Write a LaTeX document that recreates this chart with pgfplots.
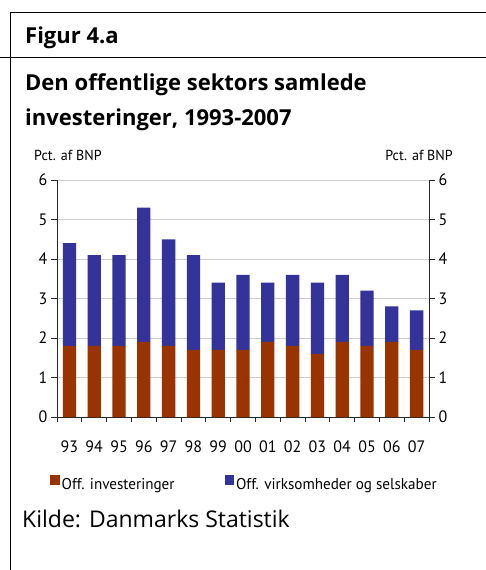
\documentclass[border=0pt]{standalone}
\usepackage{pgfplots}
\pgfplotsset{compat=1.18}
\usepackage{fontspec}
\setmainfont{Open Sans}
\newfontfamily\cond[FakeStretch=0.97]{PT Sans}
\definecolor{cred}{HTML}{993300}
\definecolor{cblue}{HTML}{333399}
\definecolor{cgrid}{HTML}{CCCCCC}
\begin{document}
\begin{tikzpicture}
\path[use as bounding box] (0pt,0pt) rectangle (486pt,-570pt);
\draw[line width=1pt] (10pt,-12pt) -- (486pt,-12pt);
\draw[line width=1pt] (0pt,-57pt) -- (486pt,-57pt);
\draw[line width=1pt] (10pt,-12pt) -- (10pt,-570pt);
\node[anchor=base west,inner sep=0pt] at (25pt,-43pt) {\fontsize{22}{26}\selectfont\bfseries Figur 4.a};
\node[anchor=base west,inner sep=0pt] at (25pt,-90pt) {\fontsize{22}{26}\selectfont\bfseries Den offentlige sektors samlede};
\node[anchor=base west,inner sep=0pt] at (25pt,-125pt) {\fontsize{22}{26}\selectfont\bfseries investeringer, 1993-2007};
\node[anchor=base west,inner sep=0pt] at (34pt,-160pt) {\cond\fontsize{14.5}{17}\selectfont Pct. af BNP};
\node[anchor=base east,inner sep=0pt] at (453pt,-160pt) {\cond\fontsize{14.5}{17}\selectfont Pct. af BNP};
\node[anchor=base west,inner sep=0pt] at (22pt,-527pt) {\fontsize{23}{28}\selectfont Kilde: Danmarks Statistik};
\begin{axis}[
  at={(57pt,-417pt)}, anchor=south west,
  scale only axis, width=372pt, height=237pt,
  xmin=-0.5, xmax=14.5, ymin=0, ymax=6,
  ybar stacked, bar width=13.3pt,
  axis x line*=bottom, axis y line*=left,
  axis line style={line width=0.9pt, black!85},
  tick style={line width=0.9pt, black!85},
  tick align=outside,
  xtick={0,...,14},
  xticklabels={93,94,95,96,97,98,99,00,01,02,03,04,05,06,07},
  major x tick style={draw=none},
  minor xtick={-0.5,0.5,...,14.5},
  minor tick length=5pt,
  major tick length=6pt,
  ytick={0,...,6},
  ymajorgrids, grid style={cgrid, line width=0.9pt},
  /pgf/number format/assume math mode=true,
  ticklabel style={font=\cond\fontsize{16.5}{19}\selectfont},
  xticklabel style={yshift=-14pt},
  legend columns=2,
  legend cell align=left,
  legend image code/.code={\fill[#1] (0pt,-1pt) rectangle (9.5pt,9pt);},
  legend style={at={(-0.0188,-0.245)}, anchor=north west, draw=none, fill=none, inner sep=0pt,
    font=\cond\fontsize{15.6}{19}\selectfont,
    /tikz/every even column/.append style={column sep=48pt}},
]
\addplot[fill=cred, draw=none] coordinates {
(0,1.8) (1,1.8) (2,1.8) (3,1.9) (4,1.8) (5,1.7) (6,1.7) (7,1.7) (8,1.9) (9,1.8) (10,1.6) (11,1.9) (12,1.8) (13,1.9) (14,1.7)};
\addlegendentry{Off. investeringer}
\addplot[fill=cblue, draw=none] coordinates {
(0,2.6) (1,2.3) (2,2.3) (3,3.4) (4,2.7) (5,2.4) (6,1.7) (7,1.9) (8,1.5) (9,1.8) (10,1.8) (11,1.7) (12,1.4) (13,0.9) (14,1.0)};
\addlegendentry{Off. virksomheder og selskaber}
\end{axis}
\begin{axis}[
  at={(57pt,-417pt)}, anchor=south west,
  scale only axis, width=372pt, height=237pt,
  xmin=-0.5, xmax=14.5, ymin=0, ymax=6,
  axis x line=none, axis y line*=right,
  axis line style={line width=0.9pt, black!85},
  tick style={line width=0.9pt, black!85},
  tick align=outside, major tick length=6pt,
  ytick={0,...,6},
  /pgf/number format/assume math mode=true,
  ticklabel style={font=\cond\fontsize{16.5}{19}\selectfont},
]
\end{axis}
\end{tikzpicture}
\end{document}
